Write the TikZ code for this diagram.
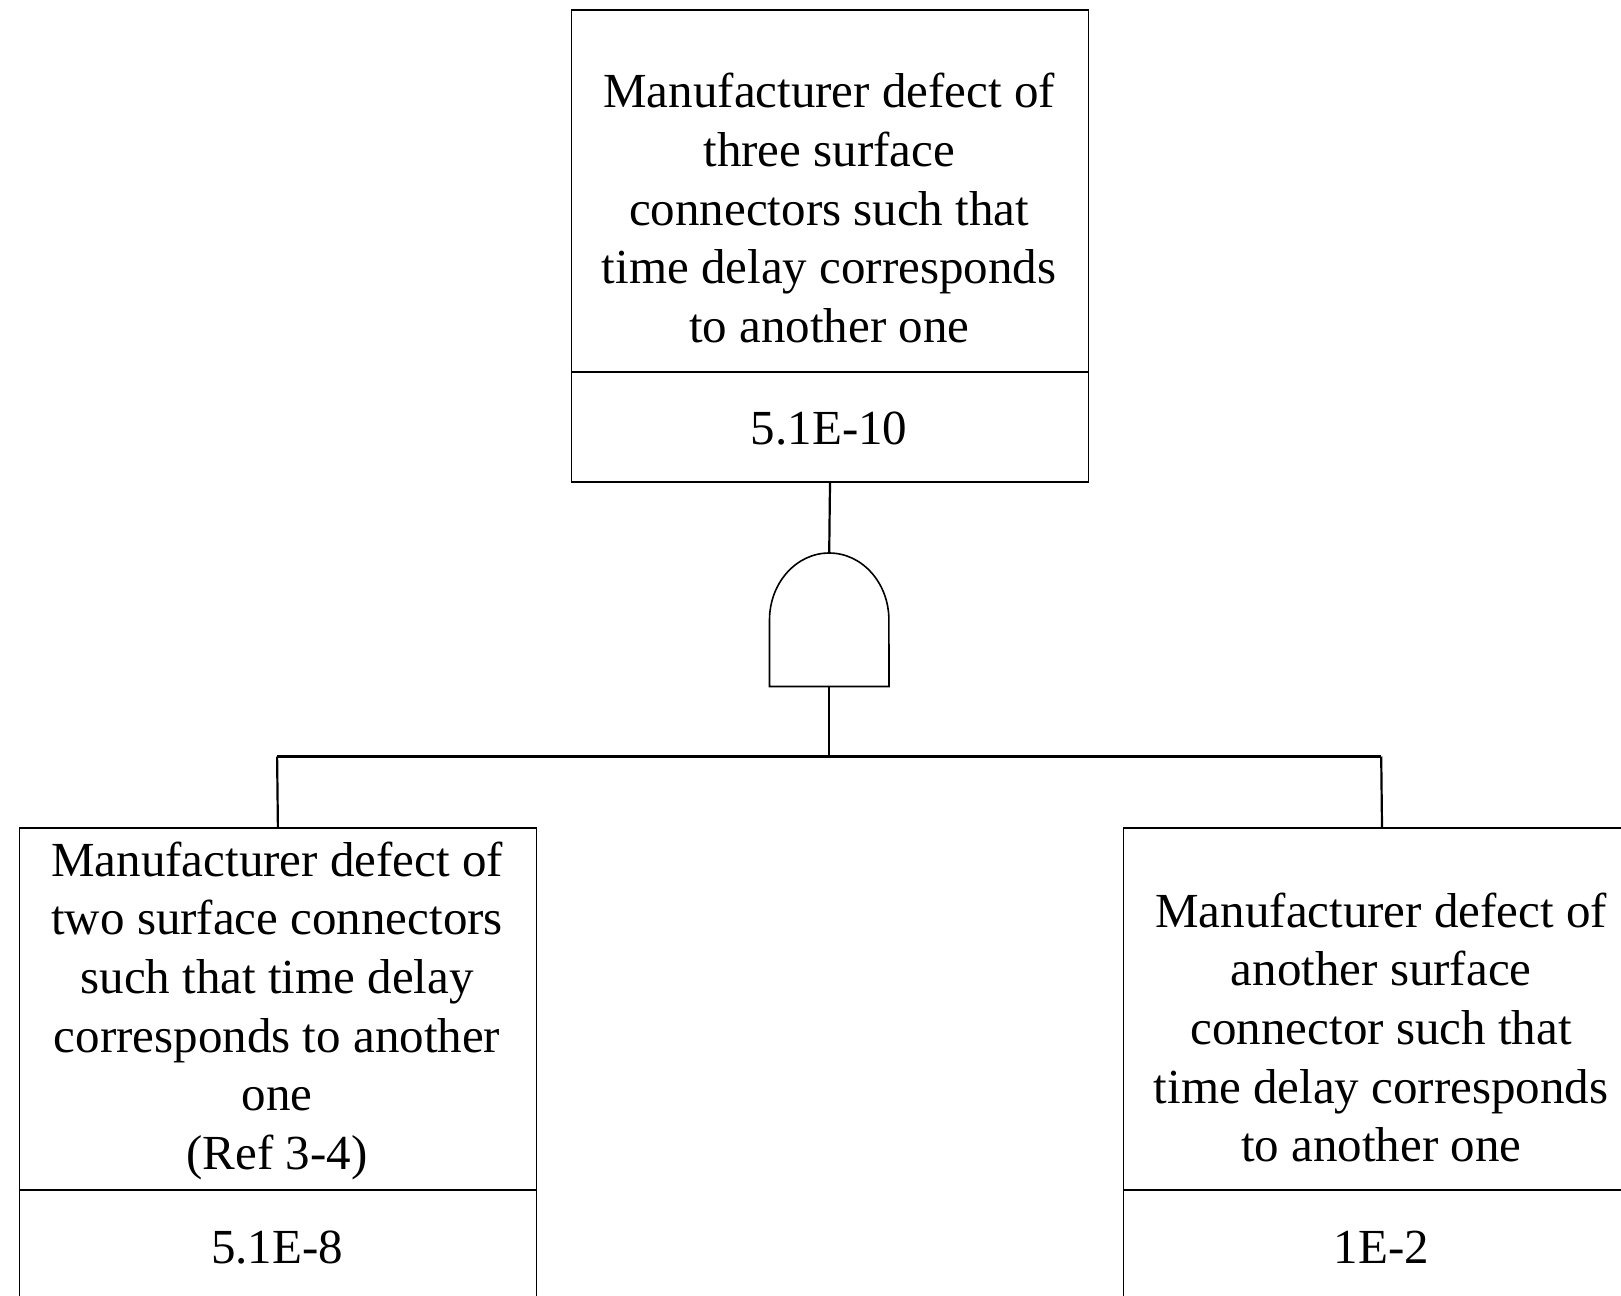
\documentclass[tikz,border=0pt]{standalone}
\usepackage{fontspec}
\setmainfont{Liberation Serif}
\begin{document}
\begin{tikzpicture}[x=1pt,y=-1pt,
  boxframe/.style={draw=black,line width=1.6pt,rectangle,inner sep=0pt,minimum width=517pt,minimum height=472pt,anchor=north west},
  txt/.style={align=center,inner sep=0pt,font=\fontsize{49}{58.6}\selectfont},
  val/.style={inner sep=0pt,anchor=base,font=\fontsize{49}{58.6}\selectfont},
  wire/.style={line width=2.2pt},
  divider/.style={line width=1.6pt}]
\useasboundingbox (0,0) rectangle (1621,1295);
\clip (0,0) rectangle (1621,1295);
\fill[white] (0,0) rectangle (1621,1295);

% boxes
\node[boxframe] (topbox) at (570.7,9.3) {};
\node[boxframe] (leftbox) at (18.6,827) {};
\node[boxframe] (rightbox) at (1122.7,827) {};

% dividers
\coordinate (tdl) at (570.7,372.2); \coordinate (tdr) at (1087.7,372.2);
\draw[divider] (tdl) -- (tdr);
\coordinate (ldl) at (18.6,1190); \coordinate (ldr) at (535.6,1190);
\draw[divider] (ldl) -- (ldr);
\coordinate (rdl) at (1122.7,1190); \coordinate (rdr) at (1639.7,1190);
\draw[divider] (rdl) -- (rdr);

% texts
\node[txt] (toptext) at (829.2,208) {Manufacturer defect of\\three surface\\connectors such that\\time delay corresponds\\to another one};
\node[val] (topval) at (829.2,444.5) {5.1E-10};
\node[txt] (lefttext) at (277.1,1010.7) {Manufacturer defect of\\two surface connectors\\such that time delay\\corresponds to another\\one\\(Ref 3-4)};
\node[val] (leftval) at (277.1,1263) {5.1E-8};
\node[txt] (righttext) at (1381.2,1027.5) {Manufacturer defect of\\another surface\\connector such that\\time delay corresponds\\to another one};
\node[val] (rightval) at (1381.2,1263) {1E-2};

% AND gate
\coordinate (gtop) at (829.2,553);
\coordinate (gbot) at (829.2,686.5);
\draw[line width=1.6pt] (769.5,686.5) -- (769.5,620) arc[start angle=180,end angle=0,x radius=59.7pt,y radius=67pt] -- (889,686.5) -- cycle;

% connectors
\coordinate (barmid) at (829.2,756.5);
\coordinate (barl) at (277.1,756.5);
\coordinate (barr) at (1381.2,756.5);
\draw[wire] (topbox.south) -- (gtop);
\draw[wire] (gbot) -- (barmid);
\draw[wire] (barl) -- (barr);
\draw[wire] (barl) -- (leftbox.north);
\draw[wire] (barr) -- (rightbox.north);
\end{tikzpicture}
\end{document}
